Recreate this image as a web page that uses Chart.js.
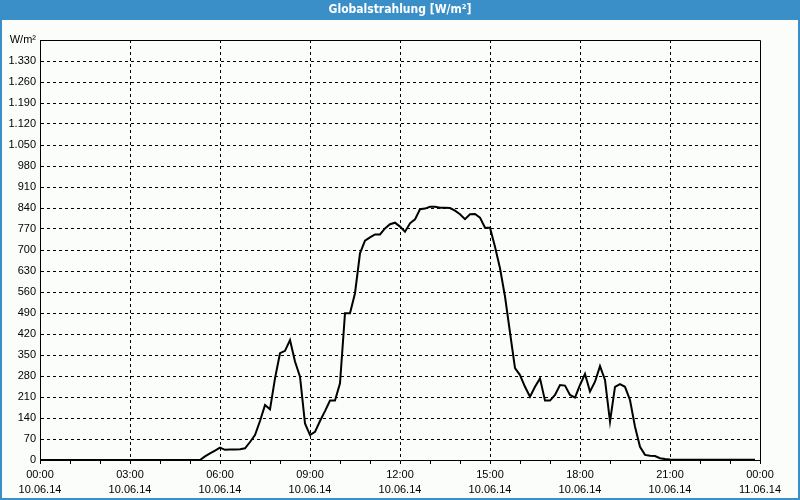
<!DOCTYPE html>
<html>
<head>
<meta charset="utf-8">
<script src="https://cdn.jsdelivr.net/npm/chart.js@4/dist/chart.umd.min.js"></script>
<style>
  body { margin: 0; background: #fff; }
  canvas { display: block; }
</style>
</head>
<body>
<canvas id="chart" width="800" height="500"></canvas>
<script>
const times = [
  "00:00", "05:20", "05:30", "05:40", "05:50", "06:00", "06:10", "06:20", "06:30", "06:40", "06:50",
  "07:00", "07:10", "07:20", "07:30", "07:40", "07:50", "08:00", "08:10", "08:20", "08:30", "08:40", "08:50",
  "09:00", "09:10", "09:20", "09:30", "09:40", "09:50", "10:00", "10:10", "10:20", "10:30", "10:40", "10:50",
  "11:00", "11:10", "11:20", "11:30", "11:40", "11:50", "12:00", "12:10", "12:20", "12:30", "12:40", "12:50",
  "13:00", "13:10", "13:20", "13:30", "13:40", "13:50", "14:00", "14:10", "14:20", "14:30", "14:40", "14:50",
  "15:00", "15:10", "15:20", "15:30", "15:40", "15:50", "16:00", "16:10", "16:20", "16:30", "16:40", "16:50",
  "17:00", "17:10", "17:20", "17:30", "17:40", "17:50", "18:00", "18:10", "18:20", "18:30", "18:40", "18:50",
  "19:00", "19:10", "19:20", "19:30", "19:40", "19:50", "20:00", "20:10", "20:20", "20:30", "20:40", "20:50",
  "21:00", "23:50"
];
const values = [
  0, 0, 12, 22, 31, 41, 34, 35, 35, 36, 39,
  60, 83, 130, 183, 169, 272, 356, 364, 400, 328, 278, 122,
  83, 94, 130, 163, 198, 198, 256, 489, 489, 556, 689, 731,
  742, 752, 752, 772, 786, 791, 778, 761, 789, 802, 836, 838,
  844, 844, 841, 841, 840, 831, 819, 803, 819, 820, 808, 774,
  774, 711, 639, 545, 425, 306, 283, 244, 211, 244, 272, 198,
  198, 217, 250, 248, 217, 208, 250, 287, 228, 261, 313, 267,
  128, 244, 253, 244, 200, 111, 44, 17, 14, 13, 6, 3,
  2, 1
];
const hourLabels = ["00:00", "03:00", "06:00", "09:00", "12:00", "15:00", "18:00", "21:00", "00:00"];
const dateLabels = ["10.06.14", "10.06.14", "10.06.14", "10.06.14", "10.06.14", "10.06.14", "10.06.14", "10.06.14", "11.06.14"];
const unitLabel = "W/m²";
const titleText = "Globalstrahlung [W/m²]";

function toHours(t) {
  const p = t.split(":");
  return Number(p[0]) + Number(p[1]) / 60;
}

function formatDe(v) {
  return String(v).replace(/\B(?=(\d{3})+(?!\d))/g, ".");
}

const frame = {
  id: "frame",
  beforeDraw(chart) {
    const ctx = chart.ctx;
    ctx.save();
    ctx.fillStyle = "#3b8fc8";
    ctx.fillRect(0, 0, chart.width, chart.height);
    ctx.fillStyle = "#fbfdfb";
    ctx.fillRect(2, 20, chart.width - 4, chart.height - 22);
    ctx.restore();
  },
  beforeDatasetsDraw(chart) {
    const a = chart.chartArea;
    const ctx = chart.ctx;
    ctx.save();
    ctx.strokeStyle = "#000";
    ctx.lineWidth = 1;
    ctx.beginPath();
    ctx.moveTo(a.left, a.top + 0.5);
    ctx.lineTo(a.right + 0.5, a.top + 0.5);
    ctx.lineTo(a.right + 0.5, a.bottom);
    ctx.stroke();
    ctx.restore();
  }
};

const font = { family: "'Liberation Sans', Arial, sans-serif", size: 11 };

new Chart(document.getElementById("chart"), {
  type: "line",
  data: {
    datasets: [{
      data: times.map((t, i) => ({ x: toHours(t), y: values[i] })),
      borderColor: "#000",
      borderWidth: 2,
      pointRadius: 0,
      tension: 0,
      fill: false
    }]
  },
  options: {
    responsive: false,
    devicePixelRatio: 1,
    animation: false,
    layout: { padding: 0 },
    plugins: {
      legend: { display: false },
      tooltip: { enabled: false },
      title: {
        display: true,
        text: titleText,
        color: "#fff",
        font: { family: "'Liberation Sans Narrow', 'DejaVu Sans Condensed', 'Liberation Sans', sans-serif", size: 12, weight: "bold", lineHeight: 1.2 },
        padding: { top: 3, bottom: 22.6 }
      }
    },
    scales: {
      x: {
        type: "linear",
        min: 0,
        max: 24,
        afterFit(scale) { scale.height = 40; },
        ticks: {
          stepSize: 1,
          autoSkip: false,
          maxRotation: 0,
          padding: 3,
          color: "#000",
          font: Object.assign({ lineHeight: 1.4 }, font),
          callback: (v) => (v % 3 === 0 ? [hourLabels[v / 3], dateLabels[v / 3]] : "")
        },
        grid: {
          color: (c) => (c.tick && c.tick.value % 3 === 0 && c.tick.value > 0 && c.tick.value < 24 ? "#000" : "rgba(0,0,0,0)"),
          tickColor: "#000",
          tickLength: 4,
          lineWidth: 1
        },
        border: { display: true, color: "#000", width: 1, dash: [3, 3] }
      },
      y: {
        min: 0,
        max: 1400,
        afterFit(scale) { scale.width = 40; },
        ticks: {
          stepSize: 70,
          autoSkip: false,
          padding: 4,
          color: "#000",
          font: font,
          callback: (v) => (v === 1400 ? unitLabel : formatDe(v))
        },
        grid: {
          color: (c) => (c.tick && c.tick.value > 0 && c.tick.value < 1400 ? "#000" : "rgba(0,0,0,0)"),
          drawTicks: false,
          lineWidth: 1
        },
        border: { display: true, color: "#000", width: 1, dash: [3, 3] }
      },
      yRight: {
        position: "right",
        min: 0,
        max: 1400,
        afterFit(scale) { scale.width = 40; },
        ticks: { display: false },
        grid: { display: false, drawTicks: false },
        border: { display: false }
      }
    }
  },
  plugins: [frame]
});
</script>
</body>
</html>
